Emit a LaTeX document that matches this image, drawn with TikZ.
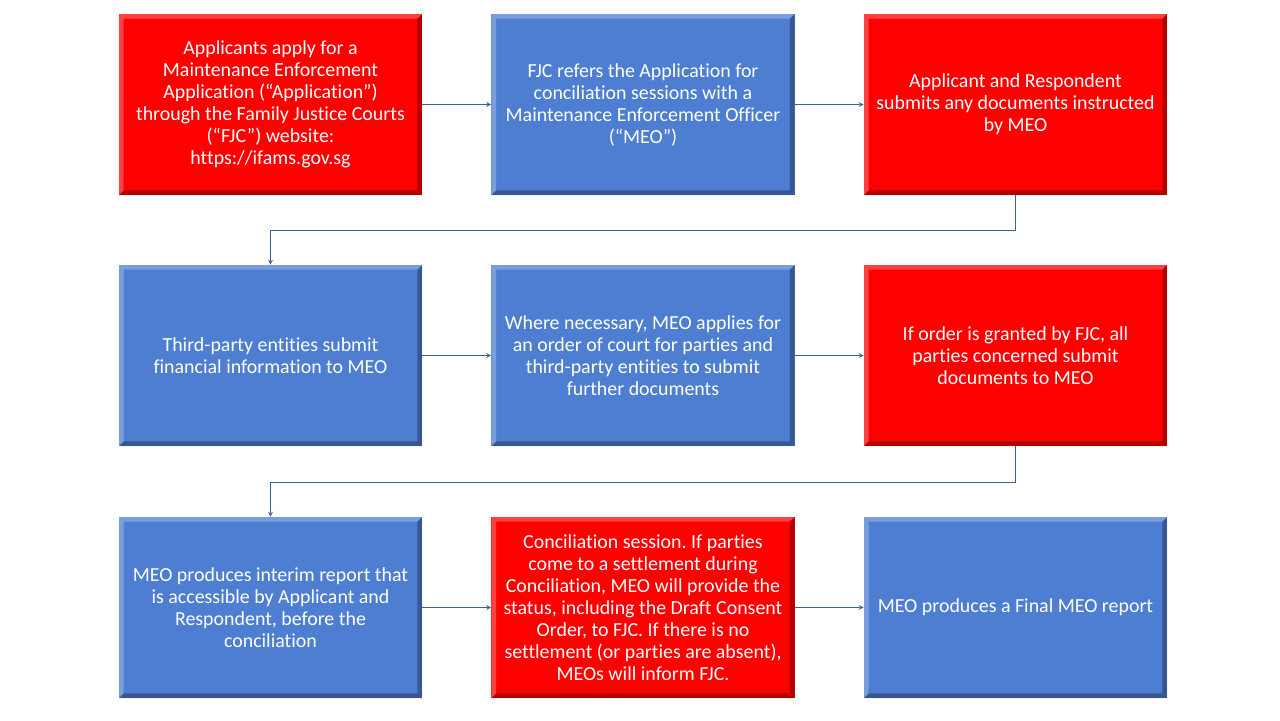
\documentclass[tikz,border=0pt]{standalone}
\usepackage{fontspec}
\setmainfont{Carlito}[Ligatures=NoCommon]
\usetikzlibrary{positioning}
\frenchspacing

\definecolor{fjred}{RGB}{255,0,0}
\definecolor{fjblue}{RGB}{78,126,210}
\definecolor{fjline}{RGB}{61,96,148}

\tikzset{
  stage/.style={minimum width=9.09cm,minimum height=5.43cm,inner sep=0pt,
    align=center,text=white,font=\fontsize{17}{18.8}\selectfont,
    path picture={
      \fill[white,opacity=0.25] (path picture bounding box.south west) -- (path picture bounding box.north west)
        -- (path picture bounding box.north east) -- ([shift={(-4pt,-4pt)}]path picture bounding box.north east)
        -- ([shift={(4pt,-4pt)}]path picture bounding box.north west) -- ([shift={(4pt,4pt)}]path picture bounding box.south west) -- cycle;
      \fill[black,opacity=0.3] (path picture bounding box.south west) -- (path picture bounding box.south east)
        -- (path picture bounding box.north east) -- ([shift={(-4pt,-4pt)}]path picture bounding box.north east)
        -- ([shift={(-4pt,4pt)}]path picture bounding box.south east) -- ([shift={(4pt,4pt)}]path picture bounding box.south west) -- cycle;
    }},
  redstage/.style={stage,fill=fjred},
  bluestage/.style={stage,fill=fjblue},
}

\begin{document}
\begin{tikzpicture}[x=0.03cm,y=-0.03cm,>=stealth,line width=0.8pt]
\useasboundingbox (0,0) rectangle (1280,720);
% row 1
\node[redstage] (apply) at (270.5,104.5) {Applicants apply for a\\Maintenance Enforcement\\Application (“Application”)\\through the Family Justice Courts\\(“FJC”) website:\\https://ifams.gov.sg};
\node[bluestage] (refer) at (643,104.5) {FJC refers the Application for\\conciliation sessions with a\\Maintenance Enforcement Officer\\(“MEO”)};
\node[redstage] (submit) at (1015.5,104.5) {Applicant and Respondent\\submits any documents instructed\\by MEO};
% row 2
\node[bluestage] (thirdparty) at (270.5,355.5) {Third-party entities submit\\financial information to MEO};
\node[bluestage] (courtorder) at (643,355.5) {Where necessary, MEO applies for\\an order of court for parties and\\third-party entities to submit\\further documents};
\node[redstage] (granted) at (1015.5,355.5) {If order is granted by FJC, all\\parties concerned submit\\documents to MEO};
% row 3
\node[bluestage] (interim) at (270.5,607.5) {MEO produces interim report that\\is accessible by Applicant and\\Respondent, before the\\conciliation};
\node[redstage] (conciliation) at (643,607.5) {Conciliation session. If parties\\come to a settlement during\\Conciliation, MEO will provide the\\status, including the Draft Consent\\Order, to FJC. If there is no\\settlement (or parties are absent),\\MEOs will inform FJC.};
\node[bluestage] (finalreport) at (1015.5,607.5) {MEO produces a Final MEO report};

\begin{scope}[draw=fjline,->]
\draw (apply) -- (refer);
\draw (refer) -- (submit);
\draw (submit.south) -- ++(0,35) -| (thirdparty.north);
\draw (thirdparty) -- (courtorder);
\draw (courtorder) -- (granted);
\draw (granted.south) -- ++(0,36) -| (interim.north);
\draw (interim) -- (conciliation);
\draw (conciliation) -- (finalreport);
\end{scope}
\end{tikzpicture}
\end{document}
